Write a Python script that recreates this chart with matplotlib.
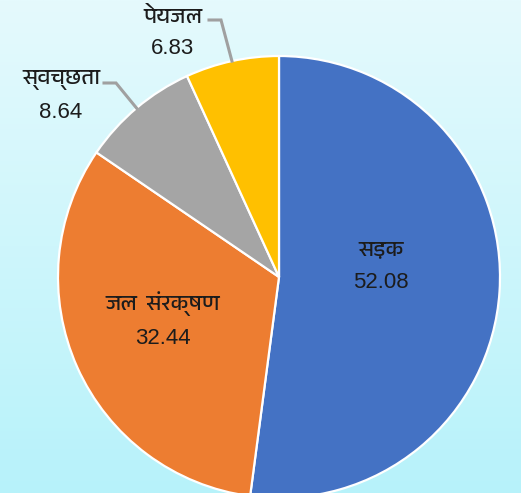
import numpy as np
import matplotlib

matplotlib.use("Agg")
import matplotlib.pyplot as plt
from matplotlib import font_manager
from matplotlib.ft2font import FT2Font

labels = ["सड़क", "जल  संरक्षण", "स्वच्छता", "पेयजल"]
values = [52.08, 32.44, 8.64, 6.83]
colors = ["#4472C4", "#ED7D31", "#A5A5A5", "#FFC000"]


def find_devanagari_font() -> str:
    found = []
    for entry in font_manager.fontManager.ttflist:
        try:
            cmap = FT2Font(entry.fname).get_charmap()
        except Exception:
            continue
        if 0x0915 in cmap and 0x094D in cmap:
            found.append(entry.name)
    found.sort(key=lambda n: (0 if "Devanagari" in n else 1, n))
    return found[0] if found else "DejaVu Sans"


deva = find_devanagari_font()
num_family = ["Liberation Sans", "DejaVu Sans"]
name_family = [deva, "Liberation Sans", "DejaVu Sans"]

W, H = 521, 493
fig = plt.figure(figsize=(W / 100, H / 100), dpi=100)

# background gradient
bg = fig.add_axes([0, 0, 1, 1])
top = np.array([229, 250, 253]) / 255
bottom = np.array([183, 242, 250]) / 255
t = np.linspace(0, 1, 256)[:, None]
grad = top * (1 - t) + bottom * t
bg.imshow(grad[:, None, :].repeat(2, axis=1), aspect="auto", extent=[0, 1, 0, 1])
bg.set_axis_off()

ax = fig.add_axes([0, 0, 1, 1])
ax.patch.set_alpha(0)

cx, cy, r = 279, H - 277, 221
wedges, _ = ax.pie(
    values,
    colors=colors,
    startangle=90,
    counterclock=False,
    center=(cx, cy),
    radius=r,
    wedgeprops=dict(edgecolor="white", linewidth=1.6),
    frame=True,
)
ax.set_xlim(0, W)
ax.set_ylim(0, H)
ax.set_axis_off()

txt = "#1c1c1c"
fs = 16

# inside labels
inside = {0: (381, H - 250, H - 283), 1: (163, H - 304, H - 339)}
for i, (x, yn, yv) in inside.items():
    ax.text(x, yn, labels[i], ha="center", va="center", fontsize=fs, family=name_family,
            weight="normal", color=txt)
    ax.text(x, yv, f"{values[i]:.2f}", ha="center", va="center", fontsize=fs, family=num_family, color=txt)

# outside labels with leader lines
outside = {3: (173, H - 17, H - 48, 209, 221), 2: (61, H - 80, H - 113, 104, 116)}
for i, (x, yn, yv, lx0, lx1) in outside.items():
    ax.text(x, yn, labels[i], ha="center", va="center", fontsize=fs, family=name_family,
            weight="normal", color=txt)
    ax.text(x, yv, f"{values[i]:.2f}", ha="center", va="center", fontsize=fs, family=num_family, color=txt)
    w = wedges[i]
    mid = np.deg2rad((w.theta1 + w.theta2) / 2)
    ex, ey = cx + r * np.cos(mid), cy + r * np.sin(mid)
    ly = yn - 3
    ax.plot([lx0, lx1, ex], [ly, ly, ey], color="#a0a0a0", lw=2.2, solid_joinstyle="miter")

fig.savefig("out.png", dpi=100)
